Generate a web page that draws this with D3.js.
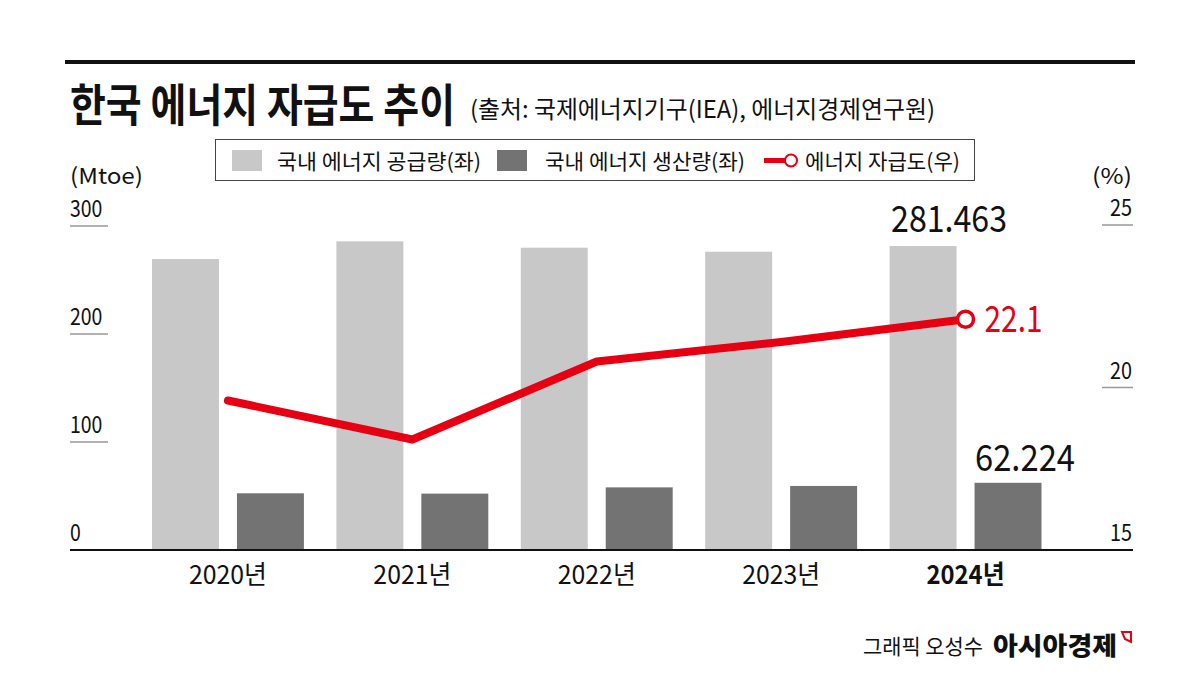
<!DOCTYPE html>
<html><head><meta charset="utf-8">
<script src="https://cdn.jsdelivr.net/npm/d3@7"></script>
<style>
html,body{margin:0;padding:0;background:#fff;}
svg{display:block;font-family:"Noto Sans CJK KR","Noto Sans",sans-serif;}
</style></head>
<body><svg id="c" width="1203" height="684"></svg>
<script>
const years = ["2020년","2021년","2022년","2023년","2024년"];
const supply = [269.4, 285.8, 279.9, 276.2, 281.463];
const production = [52.5, 52.2, 58.0, 59.3, 62.224];
const selfSufficiency = [19.6, 18.4, 20.8, 21.4, 22.1];
const leftTicks = [0, 100, 200, 300];
const rightTicks = [15, 20, 25];
const seriesNames = ["국내 에너지 공급량(좌)", "국내 에너지 생산량(좌)", "에너지 자급도(우)"];

const svg = d3.select("#c");
const RED = "#e60012", LIGHT = "#c8c8c8", DARK = "#737373";

const x = d3.scaleBand().domain(years).range([152, 1041.5]).paddingInner(0.1762).paddingOuter(0);
const xs = d3.scaleBand().domain(["s","p"]).range([0, x.bandwidth()]).paddingInner(0.2118);
const yL = d3.scaleLinear().domain([0, 300]).range([550, 226]);
const yR = d3.scaleLinear().domain([15, 25]).range([550, 225]);

function cond(sel, len) { return sel.attr("textLength", len).attr("lengthAdjust", "spacingAndGlyphs"); }

// top rule
svg.append("rect").attr("x",65).attr("y",60).attr("width",1070).attr("height",4).attr("fill","#111");
// title
cond(svg.append("text").attr("x",70).attr("y",122).attr("font-size",45).attr("font-weight",700)
  .attr("fill","#111"), 385).text("한국 에너지 자급도 추이");
cond(svg.append("text").attr("x",470).attr("y",118).attr("font-size",24)
  .attr("fill","#111"), 465).text("(출처: 국제에너지기구(IEA), 에너지경제연구원)");

// legend
svg.append("rect").attr("x",215.5).attr("y",139.5).attr("width",759).attr("height",41)
  .attr("fill","#fff").attr("stroke","#444").attr("stroke-width",1);
svg.append("rect").attr("x",232).attr("y",150).attr("width",30).attr("height",21).attr("fill",LIGHT);
cond(svg.append("text").attr("x",277).attr("y",169).attr("font-size",21).attr("fill","#111"), 204).text(seriesNames[0]);
svg.append("rect").attr("x",497).attr("y",150).attr("width",30).attr("height",21).attr("fill",DARK);
cond(svg.append("text").attr("x",545).attr("y",169).attr("font-size",21).attr("fill","#111"), 200).text(seriesNames[1]);
svg.append("line").attr("x1",764).attr("x2",788).attr("y1",160.5).attr("y2",160.5)
  .attr("stroke",RED).attr("stroke-width",5);
svg.append("circle").attr("cx",791).attr("cy",160.5).attr("r",6).attr("fill","#fff")
  .attr("stroke",RED).attr("stroke-width",2);
cond(svg.append("text").attr("x",805).attr("y",169).attr("font-size",21).attr("fill","#111"), 155).text(seriesNames[2]);

// axis unit labels
cond(svg.append("text").attr("x",70).attr("y",184).attr("font-size",22).attr("fill","#111"), 73).text("(Mtoe)");
cond(svg.append("text").attr("x",1132).attr("y",184).attr("font-size",22).attr("fill","#111")
  .attr("text-anchor","end"), 40).text("(%)");

// left ticks
leftTicks.forEach(t => {
  cond(svg.append("text").attr("x",70).attr("y",yL(t)-9).attr("font-size",23).attr("fill","#111"),
    String(t).length * 10.8).text(t);
  if (t !== 0) svg.append("line").attr("x1",70).attr("x2",108).attr("y1",yL(t)).attr("y2",yL(t))
    .attr("stroke","#999").attr("stroke-width",1.5);
});
rightTicks.forEach(t => {
  cond(svg.append("text").attr("x",1132).attr("y",yR(t)-9).attr("font-size",23).attr("fill","#111")
    .attr("text-anchor","end"), String(t).length * 11).text(t);
  if (t !== 15) svg.append("line").attr("x1",1102).attr("x2",1133).attr("y1",yR(t)).attr("y2",yR(t))
    .attr("stroke","#999").attr("stroke-width",1.5);
});

// bars
const g = svg.append("g");
g.selectAll(".s").data(years).join("rect").attr("class","s")
  .attr("x", d => x(d) + xs("s")).attr("width", xs.bandwidth())
  .attr("y", (d,i) => yL(supply[i])).attr("height", (d,i) => yL(0) - yL(supply[i]))
  .attr("fill", LIGHT);
g.selectAll(".p").data(years).join("rect").attr("class","p")
  .attr("x", d => x(d) + xs("p")).attr("width", xs.bandwidth())
  .attr("y", (d,i) => yL(production[i])).attr("height", (d,i) => yL(0) - yL(production[i]))
  .attr("fill", DARK);

// baseline
svg.append("line").attr("x1",70).attr("x2",1133).attr("y1",550).attr("y2",550)
  .attr("stroke","#111").attr("stroke-width",2);

// line
const pts = years.map((d,i) => [x(d) + x.bandwidth()/2, yR(selfSufficiency[i])]);
svg.append("path").attr("d", d3.line()(pts)).attr("fill","none").attr("stroke",RED)
  .attr("stroke-width",8).attr("stroke-linejoin","round").attr("stroke-linecap","round");
const last = pts[pts.length-1];
svg.append("circle").attr("cx",last[0]).attr("cy",last[1]).attr("r",8).attr("fill","#fff")
  .attr("stroke",RED).attr("stroke-width",3.5);

// value labels
cond(svg.append("text").attr("x", last[0]+19).attr("y", last[1]+13).attr("font-size",37)
  .attr("fill",RED), 58).text(selfSufficiency[4]);
const ls = years.length-1;
cond(svg.append("text").attr("x", x(years[ls]) + xs("s") + xs.bandwidth()/2 + 26).attr("y", yL(supply[ls]) - 14)
  .attr("font-size",37).attr("fill","#111").attr("text-anchor","middle"), 116).text(supply[ls]);
cond(svg.append("text").attr("x", x(years[ls]) + xs("p") + xs.bandwidth()/2 + 17).attr("y", yL(production[ls]) - 12)
  .attr("font-size",37).attr("fill","#111").attr("text-anchor","middle"), 100).text(production[ls]);

// x labels
svg.selectAll(".xl").data(years).join("text").attr("class","xl")
  .attr("x", d => x(d) + x.bandwidth()/2).attr("y", 584)
  .attr("text-anchor","middle").attr("font-size",26).attr("fill","#111")
  .attr("font-weight", (d,i) => i === ls ? 700 : 400)
  .attr("textLength",78).attr("lengthAdjust","spacingAndGlyphs")
  .text(d => d);

// credit
cond(svg.append("text").attr("x",863).attr("y",654).attr("font-size",21).attr("fill","#111"), 120).text("그래픽 오성수");
cond(svg.append("text").attr("x",993).attr("y",655).attr("font-size",25).attr("font-weight",900).attr("fill","#111"), 124).text("아시아경제");
svg.append("path").attr("d","M1122,632 L1131,632 L1131,642 L1125,639 Z").attr("fill","none")
  .attr("stroke",RED).attr("stroke-width",2);
</script></body></html>
